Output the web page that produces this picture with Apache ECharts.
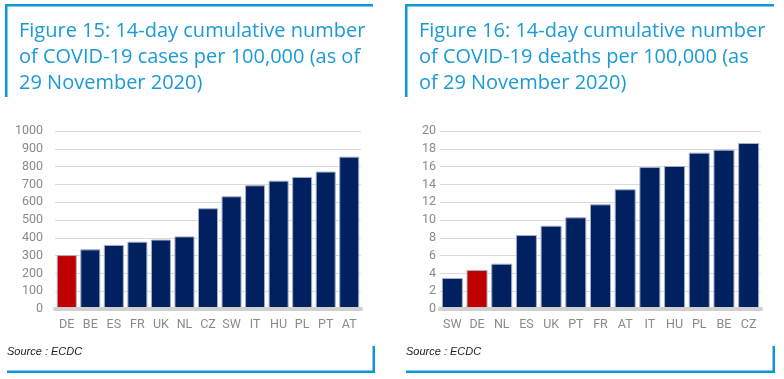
<!DOCTYPE html>
<html><head><meta charset="utf-8">
<script src="https://cdn.jsdelivr.net/npm/echarts@6/dist/echarts.min.js"></script>
<style>html,body{margin:0;padding:0;background:#fff}#c{width:784px;height:379px}</style>
</head><body><div id="c"></div>
<script>
const casesCategories = ['DE','BE','ES','FR','UK','NL','CZ','SW','IT','HU','PL','PT','AT'];
const casesValues = [303, 335, 360, 378, 390, 408, 566, 633, 695, 721, 742, 772, 856];
const casesTicks = [0,100,200,300,400,500,600,700,800,900,1000];
const deathsCategories = ['SW','DE','NL','ES','UK','PT','FR','AT','IT','HU','PL','BE','CZ'];
const deathsValues = [3.48, 4.38, 5.09, 8.31, 9.36, 10.3, 11.76, 13.45, 15.95, 16.07, 17.57, 17.9, 18.65];
const deathsTicks = [0,2,4,6,8,10,12,14,16,18,20];
const highlight = 'DE';
const title1 = 'Figure 15: 14-day cumulative number\nof COVID-19 cases per 100,000 (as of\n29 November 2020)';
const title2 = 'Figure 16: 14-day cumulative number\nof COVID-19 deaths per 100,000 (as\nof 29 November 2020)';
const sourceText = 'Source : ECDC';

const NAVY = '#002060', RED = '#c00000', BLUE = '#0f96d8';
function barData(cats, vals){
  return vals.map((v,i)=>({value:v, itemStyle:{color: cats[i]===highlight?RED:NAVY}}));
}
const chart = echarts.init(document.getElementById('c'), null, {renderer:'canvas'});
const axisLab = {color:'#8a8a8a', fontSize:12.5, fontFamily:'Roboto'};
const yFmt = v => String(v);
const titleStyle = {color:'#1a9ad6', fontSize:20, fontWeight:'normal', fontFamily:'Open Sans', lineHeight:26};
chart.setOption({
  animation:false,
  title:[
    {text:title1, left:14, top:13, textStyle:titleStyle},
    {text:title2, left:414, top:13, textStyle:titleStyle}
  ],
  grid:[
    {left:55, right:423, top:131, bottom:70},
    {left:440, right:23, top:131, bottom:70}
  ],
  xAxis:[
    {type:'category', gridIndex:0, data:casesCategories, z:5, axisLine:{lineStyle:{color:'#d0d0d0', width:4}}, axisTick:{show:false}, axisLabel:Object.assign({margin:9, interval:0}, axisLab)},
    {type:'category', gridIndex:1, data:deathsCategories, z:5, axisLine:{lineStyle:{color:'#d0d0d0', width:4}}, axisTick:{show:false}, axisLabel:Object.assign({margin:9, interval:0}, axisLab)}
  ],
  yAxis:[
    {type:'value', gridIndex:0, min:casesTicks[0], max:casesTicks[casesTicks.length-1], interval:casesTicks[1]-casesTicks[0], axisLine:{show:false}, axisTick:{show:false}, splitLine:{lineStyle:{color:'#d9d9d9'}}, axisLabel:Object.assign({margin:12, formatter:yFmt}, axisLab)},
    {type:'value', gridIndex:1, min:deathsTicks[0], max:deathsTicks[deathsTicks.length-1], interval:deathsTicks[1]-deathsTicks[0], axisLine:{show:false}, axisTick:{show:false}, splitLine:{lineStyle:{color:'#d9d9d9'}}, axisLabel:Object.assign({margin:4, formatter:yFmt}, axisLab)}
  ],
  series:[
    {type:'bar', xAxisIndex:0, yAxisIndex:0, data:barData(casesCategories,casesValues), barCategoryGap:'15%', itemStyle:{borderColor:'#a3aec8', borderWidth:1}},
    {type:'bar', xAxisIndex:1, yAxisIndex:1, data:barData(deathsCategories,deathsValues), barCategoryGap:'15%', itemStyle:{borderColor:'#a3aec8', borderWidth:1}}
  ],
  graphic:[
    {type:'rect', shape:{x:5, y:4, width:368, height:2.5}, style:{fill:BLUE}},
    {type:'rect', shape:{x:5, y:4, width:2.5, height:93}, style:{fill:BLUE}},
    {type:'rect', shape:{x:405, y:4, width:369, height:2.5}, style:{fill:BLUE}},
    {type:'rect', shape:{x:405, y:4, width:2.5, height:93}, style:{fill:BLUE}},
    {type:'rect', shape:{x:7, y:370.5, width:368, height:2.5}, style:{fill:BLUE}},
    {type:'rect', shape:{x:372.5, y:346, width:2.5, height:27}, style:{fill:BLUE}},
    {type:'rect', shape:{x:406, y:370.5, width:369, height:2.5}, style:{fill:BLUE}},
    {type:'rect', shape:{x:772.5, y:346, width:2.5, height:27}, style:{fill:BLUE}},
    {type:'text', left:7, top:346, style:{text:sourceText, fill:'#222', font:'italic 11px "Liberation Sans"'}},
    {type:'text', left:406, top:346, style:{text:sourceText, fill:'#222', font:'italic 11px "Liberation Sans"'}}
  ]
});
</script></body></html>
